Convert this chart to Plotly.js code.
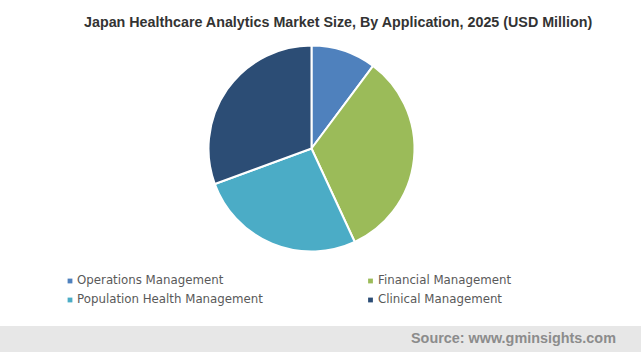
<!DOCTYPE html>
<html>
<head>
<meta charset="utf-8">
<script src="https://cdn.plot.ly/plotly-3.0.1.min.js"></script>
<style>html,body{margin:0;padding:0;background:#fff;}#chart{width:641px;height:352px;}</style>
</head>
<body>
<div id="chart"></div>
<script>
// Data (share of 2025 market, %)
const categories = ["Operations Management", "Financial Management", "Population Health Management", "Clinical Management"];
const values = [10.2, 32.9, 26.3, 30.6];
const colors = ["#4f81bd", "#9bbb59", "#4bacc6", "#2c4d75"];
const titleText = "Japan Healthcare Analytics Market Size, By Application, 2025 (USD Million)";
const sourceText = "Source: www.gminsights.com";

const W = 641, H = 352;
const px = x => x / W;
const py = y => 1 - y / H;

const trace = {
  type: "pie",
  labels: categories,
  values: values,
  sort: false,
  direction: "clockwise",
  rotation: 0,
  textinfo: "none",
  hoverinfo: "label+value",
  marker: { colors: colors, line: { color: "#ffffff", width: 2 } },
  domain: { x: [px(311.5 - 103), px(311.5 + 103)], y: [py(251.5), py(45.5)] },
  showlegend: false
};

// legend positions (two columns, two rows)
const legX = [70, 370.5, 70, 370.5];
const legY = [281, 281, 300, 300];
const shapes = [
  { type: "rect", xref: "paper", yref: "paper", x0: 0, x1: 1, y0: 0, y1: py(326),
    fillcolor: "#e7e7e7", line: { width: 0 }, layer: "below" }
];
const annotations = [
  { text: "<b>" + titleText + "</b>", xref: "paper", yref: "paper", x: px(338), y: py(22),
    xanchor: "center", yanchor: "middle", showarrow: false,
    font: { family: "Liberation Sans, Arial, sans-serif", size: 14.3, color: "#333333" } },
  { text: "<b>" + sourceText + "</b>", xref: "paper", yref: "paper", x: px(618), y: py(338),
    xanchor: "right", yanchor: "middle", showarrow: false,
    font: { family: "Liberation Sans, Arial, sans-serif", size: 14.4, color: "#8c8c8c" } }
];
categories.forEach((c, i) => {
  shapes.push({ type: "rect", xref: "paper", yref: "paper",
    x0: px(legX[i] - 2.4), x1: px(legX[i] + 2.4), y0: py(legY[i] + 2.4), y1: py(legY[i] - 2.4),
    fillcolor: colors[i], line: { width: 0 } });
  annotations.push({ text: c, xref: "paper", yref: "paper", x: px(legX[i] + 5), y: py(legY[i] - 1),
    xanchor: "left", yanchor: "middle", showarrow: false,
    font: { family: "DejaVu Sans, Verdana, sans-serif", size: 11.8, color: "#595959" } });
});

const layout = {
  width: W, height: H,
  margin: { l: 0, r: 0, t: 0, b: 0 },
  paper_bgcolor: "#ffffff",
  shapes: shapes,
  annotations: annotations,
  showlegend: false
};

Plotly.newPlot("chart", [trace], layout, { displayModeBar: false, staticPlot: true });
</script>
</body>
</html>
